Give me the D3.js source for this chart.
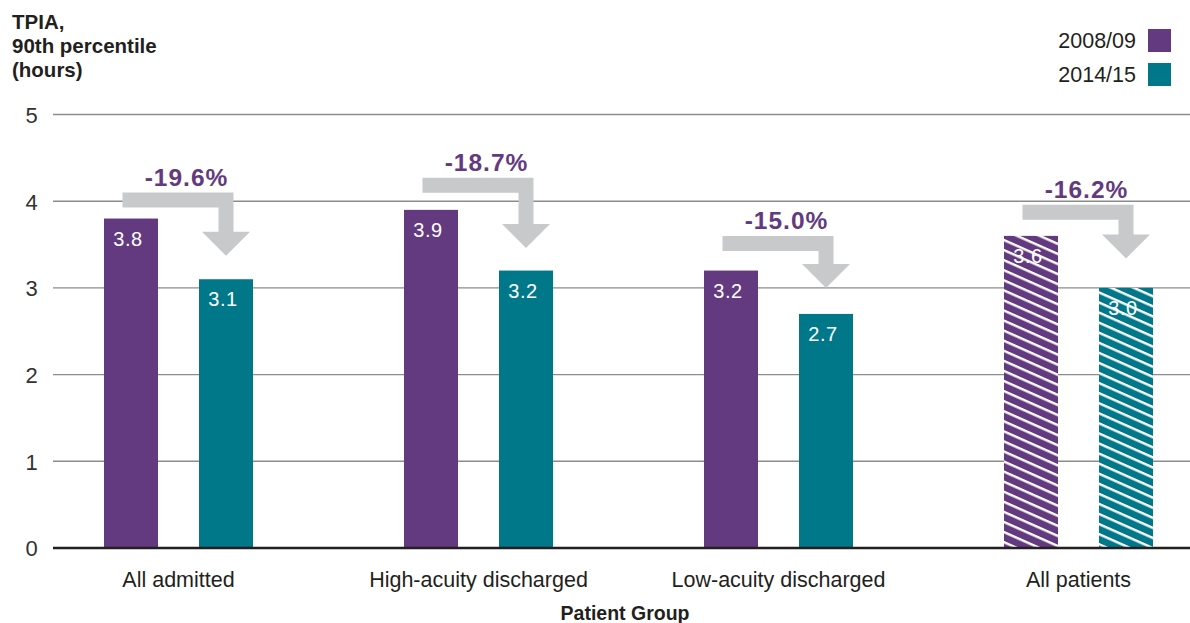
<!DOCTYPE html>
<html>
<head>
<meta charset="utf-8">
<script src="https://cdn.jsdelivr.net/npm/d3@7"></script>
<style>
  html, body { margin: 0; padding: 0; background: #fff; }
  svg { display: block; font-family: "Liberation Sans", Arial, Helvetica, sans-serif; }
</style>
</head>
<body>
<svg id="chart" width="1190" height="623"></svg>
<script>
// Time patients spend in ED (TPIA), 90th percentile, by patient group
const groups = ["All admitted", "High-acuity discharged", "Low-acuity discharged", "All patients"];
const periods = ["2008/09", "2014/15"];
const values0809 = [3.8, 3.9, 3.2, 3.6];
const values1415 = [3.1, 3.2, 2.7, 3.0];
const changeLabels = ["-19.6%", "-18.7%", "-15.0%", "-16.2%"];
const hatchedGroups = ["All patients"];
// Hours at which each change arrow's shaft starts and where its head points
const arrowFromLevel = [4.10, 4.27, 3.60, 3.96];
const arrowToLevel = [3.37, 3.46, 3.00, 3.34];
const yTicks = [0, 1, 2, 3, 4, 5];
const titleLines = ["TPIA,", "90th percentile", "(hours)"];
const xTitle = "Patient Group";

const colors = { "2008/09": "#633a7f", "2014/15": "#007889" };
const textColor = "#231f20";
const arrowColor = "#c8c9cb";

const svg = d3.select("#chart");

const y = d3.scaleLinear().domain([0, 5]).range([548, 114.5]);
const x = d3.scaleBand().domain(groups).range([28.5, 1228.5]).padding(0);
const xi = d3.scaleBand().domain(periods).range([-74.5, 74.5]).paddingInner(0.4316).paddingOuter(0);
const center = g => x(g) + x.bandwidth() / 2;

// Hatch patterns for the "All patients" bars
const defs = svg.append("defs");
periods.forEach((p, i) => {
  const pat = defs.append("pattern")
    .attr("id", "hatch" + i)
    .attr("patternUnits", "userSpaceOnUse")
    .attr("width", 9.2).attr("height", 9.2)
    .attr("patternTransform", "rotate(24)");
  pat.append("rect").attr("width", 9.2).attr("height", 9.2).attr("fill", colors[p]);
  pat.append("rect").attr("x", 0).attr("y", 0).attr("width", 9.2).attr("height", 2.4).attr("fill", "#fff");
});

// Gridlines and y tick labels
const yAxis = d3.axisLeft(y).tickValues(yTicks).tickSize(0).tickFormat(d3.format("d"));
const gy = svg.append("g").attr("transform", "translate(31.5,0)").call(yAxis);
gy.select(".domain").remove();
gy.selectAll("text")
  .attr("x", 0).attr("text-anchor", "middle").attr("dy", "0.36em")
  .attr("font-size", 22).attr("fill", "#333").attr("font-family", null);

svg.append("g").selectAll("line")
  .data(yTicks.filter(d => d > 0))
  .join("line")
  .attr("x1", 53).attr("x2", 1190)
  .attr("y1", d => y(d)).attr("y2", d => y(d))
  .attr("stroke", "#8c8c8c").attr("stroke-width", 1.4);

// Bars
const rows = groups.map((g, i) => ({
  group: g,
  bars: [
    { period: periods[0], value: values0809[i] },
    { period: periods[1], value: values1415[i] }
  ]
}));

const gGroups = svg.append("g").selectAll("g")
  .data(rows).join("g")
  .attr("transform", d => `translate(${center(d.group)},0)`);

gGroups.selectAll("rect")
  .data(d => d.bars.map(b => ({ ...b, group: d.group })))
  .join("rect")
  .attr("x", d => xi(d.period))
  .attr("width", xi.bandwidth())
  .attr("y", d => y(d.value))
  .attr("height", d => y(0) - y(d.value))
  .attr("fill", d => hatchedGroups.includes(d.group) ? `url(#hatch${periods.indexOf(d.period)})` : colors[d.period]);

gGroups.selectAll("text.val")
  .data(d => d.bars)
  .join("text")
  .attr("class", "val")
  .attr("x", d => xi(d.period) + xi.bandwidth() / 2 - 3)
  .attr("y", d => y(d.value) + 27)
  .attr("text-anchor", "middle")
  .attr("font-size", 20).attr("letter-spacing", 0.6)
  .attr("fill", "#fff")
  .text(d => d3.format(".1f")(d.value));

// Zero baseline
svg.append("line")
  .attr("x1", 53).attr("x2", 1190)
  .attr("y1", y(0)).attr("y2", y(0))
  .attr("stroke", textColor).attr("stroke-width", 2.6);

// Change arrows with percentage labels
const shaft = 15, headHalf = 24, headLen = 24;
groups.forEach((g, i) => {
  const cx = center(g);
  const tx = cx + xi(periods[1]) + xi.bandwidth() / 2;
  const top = y(arrowFromLevel[i]);
  const tip = y(arrowToLevel[i]);
  const left = cx - 56;
  const headBase = tip - headLen;
  const pts = [
    [left, top], [tx + shaft / 2, top], [tx + shaft / 2, headBase],
    [tx + headHalf, headBase], [tx, tip], [tx - headHalf, headBase],
    [tx - shaft / 2, headBase], [tx - shaft / 2, top + shaft], [left, top + shaft]
  ];
  svg.append("path")
    .attr("d", d3.line()(pts) + "Z")
    .attr("fill", arrowColor);
  svg.append("text")
    .attr("x", cx + 8).attr("y", top - 7)
    .attr("text-anchor", "middle")
    .attr("font-size", 24.5).attr("font-weight", "bold").attr("letter-spacing", 1)
    .attr("fill", colors["2008/09"])
    .text(changeLabels[i]);
});

// Category labels and x-axis title
const xAxis = d3.axisBottom(x).tickSize(0);
const gx = svg.append("g").attr("transform", "translate(0,587)").call(xAxis);
gx.select(".domain").remove();
gx.selectAll("text")
  .attr("y", 0).attr("dy", 0)
  .attr("font-size", 21.5).attr("fill", textColor).attr("font-family", null);

svg.append("text")
  .attr("x", 625).attr("y", 620)
  .attr("text-anchor", "middle")
  .attr("font-size", 19.5).attr("font-weight", "bold")
  .attr("fill", textColor)
  .text(xTitle);

// Y-axis title
svg.append("text")
  .attr("font-size", 20.5).attr("font-weight", "bold").attr("fill", textColor)
  .selectAll("tspan").data(titleLines).join("tspan")
  .attr("x", 12).attr("y", (d, i) => 29 + i * 24)
  .text(d => d);

// Legend
const legend = svg.append("g").selectAll("g")
  .data(periods).join("g")
  .attr("transform", (d, i) => `translate(0,${i * 34})`);
legend.append("text")
  .attr("x", 1136).attr("y", 48)
  .attr("text-anchor", "end")
  .attr("font-size", 21.5).attr("fill", textColor)
  .text(d => d);
legend.append("rect")
  .attr("x", 1148).attr("y", 29)
  .attr("width", 23).attr("height", 23)
  .attr("fill", d => colors[d]);
</script>
</body>
</html>
